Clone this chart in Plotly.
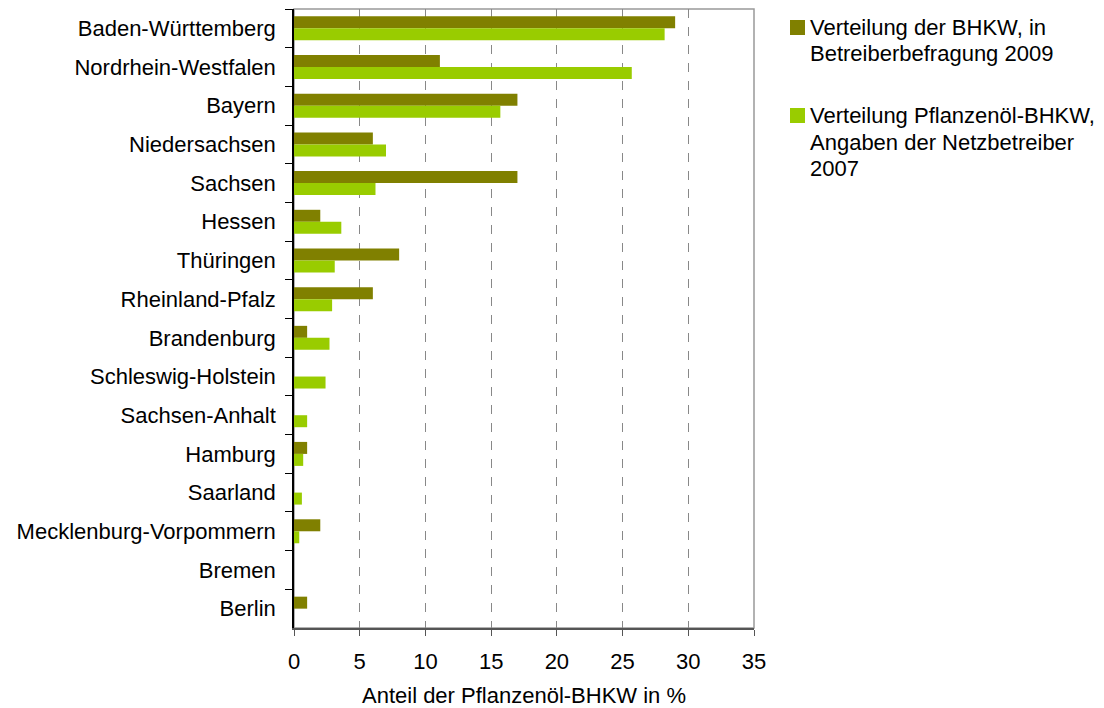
import plotly.graph_objects as go

# Federal states, top to bottom
states = [
    "Baden-Württemberg", "Nordrhein-Westfalen", "Bayern", "Niedersachsen",
    "Sachsen", "Hessen", "Thüringen", "Rheinland-Pfalz", "Brandenburg",
    "Schleswig-Holstein", "Sachsen-Anhalt", "Hamburg", "Saarland",
    "Mecklenburg-Vorpommern", "Bremen", "Berlin",
]

# Share of plant-oil CHP units per state, in %
survey_2009 = [29.0, 11.1, 17.0, 6.0, 17.0, 2.0, 8.0, 6.0, 1.0, 0.0, 0.0, 1.0, 0.0, 2.0, 0.0, 1.0]
grid_operators_2007 = [28.2, 25.7, 15.7, 7.0, 6.2, 3.6, 3.1, 2.9, 2.7, 2.4, 1.0, 0.7, 0.6, 0.4, 0.0, 0.0]

x_ticks = [0, 5, 10, 15, 20, 25, 30, 35]

# Legend entries, one list item per text line
legend_survey = ["Verteilung der BHKW, in", "Betreiberbefragung 2009"]
legend_grid = ["Verteilung Pflanzenöl-BHKW,", "Angaben der Netzbetreiber", "2007"]

color_survey = "#808000"
color_grid = "#99CC00"
font_family = "Liberation Sans, Arial, sans-serif"

W, H = 1104, 708
M_L, M_R, M_T, M_B = 294, 350, 9, 80
PW, PH = W - M_L - M_R, H - M_T - M_B


def px_x(px):
    return (px - M_L) / PW


def px_y(py):
    return (H - M_B - py) / PH


fig = go.Figure()
fig.add_trace(go.Bar(
    y=states, x=survey_2009, orientation="h", name=" ".join(legend_survey),
    marker=dict(color=color_survey, line=dict(width=0)), showlegend=False,
))
fig.add_trace(go.Bar(
    y=states, x=grid_operators_2007, orientation="h", name=" ".join(legend_grid),
    marker=dict(color=color_grid, line=dict(width=0)), showlegend=False,
))

# Hand-built legend: coloured square beside wrapped text lines
shapes = [dict(
    type="rect", xref="paper", yref="paper", x0=0, x1=1, y0=0, y1=1,
    line=dict(color="#999999", width=1.5), layer="below",
)]
annotations = []
line_step = 26.5
for top, lines, color in [(27.5, legend_survey, color_survey),
                          (115.5, legend_grid, color_grid)]:
    shapes.append(dict(
        type="rect", xref="paper", yref="paper",
        x0=px_x(790), x1=px_x(805), y0=px_y(top - 7.5), y1=px_y(top + 7.5),
        fillcolor=color, line=dict(width=0),
    ))
    for i, txt in enumerate(lines):
        annotations.append(dict(
            text=txt, xref="paper", yref="paper",
            x=px_x(808), y=px_y(top + i * line_step),
            xanchor="left", yanchor="middle", showarrow=False,
            font=dict(family=font_family, size=22, color="black"),
        ))

fig.update_layout(
    width=W, height=H,
    margin=dict(l=M_L, r=M_R, t=M_T, b=M_B),
    paper_bgcolor="white", plot_bgcolor="white",
    barmode="group", bargap=0.38, bargroupgap=0,
    font=dict(family=font_family, size=22, color="black"),
    showlegend=False,
    shapes=shapes,
    annotations=annotations,
)

fig.update_xaxes(
    range=[0, 35], tickvals=x_ticks, ticktext=[str(v) for v in x_ticks],
    showgrid=True, gridcolor="#888888", griddash="dash", gridwidth=1,
    zeroline=False, showline=True, linecolor="#555555", linewidth=1.5,
    ticks="outside", ticklen=6, tickcolor="#555555", ticklabelstandoff=7,
    title=dict(text="Anteil der Pflanzenöl-BHKW in %", standoff=23,
               font=dict(size=22)),
    automargin=False,
    fixedrange=True,
)
fig.update_yaxes(
    autorange="reversed", showgrid=False, zeroline=False,
    showline=True, linecolor="black", linewidth=1.5,
    ticks="outside", ticklen=7, tickcolor="black", tickson="boundaries",
    ticklabelstandoff=12,
    automargin=False,
    fixedrange=True,
)

fig.write_html("out.html")
